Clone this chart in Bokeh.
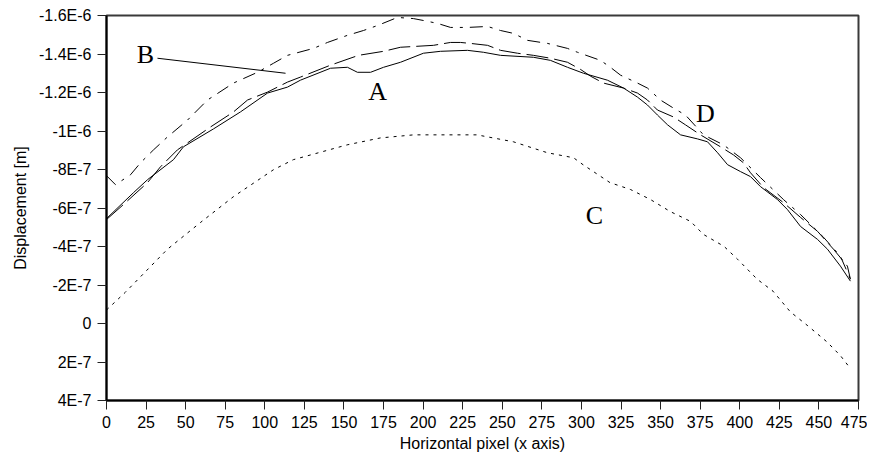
from bokeh.plotting import figure
from bokeh.models import Range1d, FixedTicker, CustomJSTickFormatter, Label
from bokeh.embed import file_html
from bokeh.resources import INLINE

# ---------------- data ----------------
x_ticks = [0, 25, 50, 75, 100, 125, 150, 175, 200, 225, 250, 275, 300, 325, 350, 375, 400, 425, 450, 475]
y_ticks = [-1.6e-6, -1.4e-6, -1.2e-6, -1.0e-6, -8e-7, -6e-7, -4e-7, -2e-7, 0.0, 2e-7, 4e-7]
y_tick_labels = ["-1.6E-6", "-1.4E-6", "-1.2E-6", "-1E-6", "-8E-7", "-6E-7", "-4E-7", "-2E-7", "0", "2E-7", "4E-7"]

# Curve A (solid)
a_x = [0, 17.1, 25.9, 42.3, 48.6, 67.6, 84.6, 101.7, 114.3, 122.5, 141.5, 152.2, 158.5, 166.8, 175.0,
       185.7, 200.2, 211.0, 228.0, 238.1, 248.9, 269.7, 280.4, 291.2, 301.3, 316.4, 326.6, 335.4,
       341.7, 348.0, 354.4, 362.6, 373.3, 379.6, 386.0, 392.3, 400.5, 406.8, 413.1, 423.8, 430.1,
       438.4, 449.1, 455.4, 463.6, 469.9]
a_y = [-5.45e-7, -6.80e-7, -7.47e-7, -8.51e-7, -9.18e-7, -10.11e-7, -10.99e-7, -11.97e-7, -12.28e-7,
       -12.64e-7, -13.26e-7, -13.31e-7, -13.05e-7, -13.05e-7, -13.31e-7, -13.57e-7, -14.04e-7,
       -14.14e-7, -14.19e-7, -14.09e-7, -13.93e-7, -13.83e-7, -13.67e-7, -13.31e-7, -13.00e-7,
       -12.64e-7, -12.23e-7, -11.76e-7, -11.35e-7, -10.83e-7, -10.32e-7, -9.80e-7, -9.59e-7,
       -9.44e-7, -8.87e-7, -8.25e-7, -7.89e-7, -7.63e-7, -7.11e-7, -6.44e-7, -5.92e-7, -5.04e-7,
       -4.37e-7, -3.86e-7, -2.98e-7, -2.20e-7]

# Curve B (long dash)
b_x = [0, 10.7, 25.9, 34.1, 44.8, 65.7, 80.2, 89.1, 101.7, 114.3, 122.5, 141.5, 159.2, 175.0, 185.7,
       206.5, 217.3, 223.6, 229.9, 240.7, 248.9, 259.6, 269.7, 280.4, 291.2, 299.4, 305.7, 313.9,
       326.6, 335.4, 341.7, 348.0, 358.1, 365.7, 375.2, 387.8, 396.0, 402.3, 406.8, 415.0, 427.6,
       438.4, 449.1, 459.2, 468.0, 469.9]
b_y = [-5.40e-7, -6.18e-7, -7.32e-7, -8.14e-7, -9.02e-7, -10.21e-7, -10.99e-7, -11.61e-7, -12.02e-7,
       -12.54e-7, -12.80e-7, -13.42e-7, -13.93e-7, -14.14e-7, -14.35e-7, -14.45e-7, -14.60e-7,
       -14.60e-7, -14.55e-7, -14.45e-7, -14.19e-7, -14.04e-7, -13.93e-7, -13.78e-7, -13.57e-7,
       -13.20e-7, -12.85e-7, -12.49e-7, -12.23e-7, -11.97e-7, -11.61e-7, -11.09e-7, -10.73e-7,
       -10.32e-7, -9.80e-7, -9.18e-7, -8.76e-7, -8.35e-7, -7.83e-7, -7.06e-7, -6.28e-7, -5.51e-7,
       -4.79e-7, -3.86e-7, -2.98e-7, -2.30e-7]

# Curve C (dotted)
c_x = [0, 12, 38.5, 59.4, 80.2, 105.5, 118, 152, 173, 194, 234, 257, 278.5, 295, 301, 318, 331,
       343.6, 356, 369, 377, 390, 398.6, 411, 421, 432, 443, 455, 463.6, 470]
c_y = [-0.70e-7, -1.63e-7, -3.86e-7, -5.25e-7, -6.59e-7, -7.99e-7, -8.51e-7, -9.28e-7, -9.64e-7,
       -9.80e-7, -9.80e-7, -9.44e-7, -8.87e-7, -8.61e-7, -8.25e-7, -7.32e-7, -6.96e-7, -6.44e-7,
       -5.82e-7, -5.30e-7, -4.63e-7, -4.01e-7, -3.34e-7, -2.30e-7, -1.68e-7, -0.60e-7, 0.12e-7,
       0.95e-7, 1.67e-7, 2.35e-7]

# Curve D (dash-dot)
d_x = [0, 5.7, 15.2, 21.5, 29.7, 38.5, 51.2, 63.8, 80.2, 95.4, 105.5, 114.3, 130.7, 139.6, 152.2,
       162.3, 171.2, 183.8, 193.9, 200.2, 209.1, 217.3, 228.0, 240.7, 248.9, 257.1, 265.9, 278.6,
       291.2, 297.5, 312.0, 318.3, 324.7, 335.4, 341.7, 349.9, 358.1, 365.7, 377.1, 389.7, 400.5,
       413.1, 427.6, 438.4, 452.9, 463.6, 469.9]
d_y = [-7.68e-7, -7.21e-7, -7.73e-7, -8.35e-7, -9.02e-7, -9.69e-7, -10.57e-7, -11.61e-7, -12.49e-7,
       -13.05e-7, -13.52e-7, -13.93e-7, -14.29e-7, -14.60e-7, -14.97e-7, -15.22e-7, -15.48e-7,
       -15.90e-7, -15.84e-7, -15.74e-7, -15.59e-7, -15.38e-7, -15.38e-7, -15.43e-7, -15.22e-7,
       -15.07e-7, -14.71e-7, -14.55e-7, -14.29e-7, -14.09e-7, -13.67e-7, -13.31e-7, -12.90e-7,
       -12.49e-7, -12.23e-7, -11.61e-7, -11.19e-7, -10.83e-7, -9.80e-7, -9.28e-7, -8.61e-7,
       -7.58e-7, -6.44e-7, -5.66e-7, -4.48e-7, -3.49e-7, -2.30e-7]

# curve annotations: letter, x, y (baseline)
ann_text = ["A", "B", "C", "D"]
ann_x = [171.2, 24.6, 308.2, 378.3]
ann_y = [-1.2075e-6, -1.3985e-6, -5.615e-7, -1.0885e-6]
# leader line from "B"
lead_x = [32.2, 113.1]
lead_y = [-1.378e-6, -1.300e-6]

# ---------------- figure ----------------
p = figure(width=867, height=454, output_backend="svg", toolbar_location=None,
           x_range=Range1d(0, 475), y_range=Range1d(4e-7, -1.6e-6),
           min_border_left=106, min_border_right=9, min_border_top=15, min_border_bottom=52)
p.background_fill_color = "white"
p.border_fill_color = "white"
p.outline_line_color = "#3a3a3a"
p.outline_line_width = 2
p.xgrid.visible = False
p.ygrid.visible = False

FONT = "Liberation Sans"
for ax in (p.xaxis[0], p.yaxis[0]):
    ax.axis_line_color = "black"
    ax.axis_line_width = 2
    ax.major_tick_line_color = "#222222"
    ax.major_tick_line_width = 1
    ax.major_tick_in = 0
    ax.major_tick_out = 9
    ax.minor_tick_line_color = None
    ax.major_label_text_font = FONT
    ax.major_label_text_font_size = "16px"
    ax.major_label_text_color = "black"
    ax.axis_label_text_font = FONT
    ax.axis_label_text_font_size = "16px"
    ax.axis_label_text_font_style = "normal"
    ax.axis_label_text_color = "black"

p.xaxis.ticker = FixedTicker(ticks=x_ticks)
p.xaxis.axis_label = "Horizontal pixel (x axis)"
p.xaxis.major_label_standoff = 6
p.xaxis.axis_label_standoff = 4

p.yaxis.ticker = FixedTicker(ticks=y_ticks)
p.yaxis.formatter = CustomJSTickFormatter(args=dict(tvals=y_ticks, tlabels=y_tick_labels), code="""
let best = 0;
for (let i = 0; i < tvals.length; i++) {
  if (Math.abs(tvals[i] - tick) < Math.abs(tvals[best] - tick)) best = i;
}
return tlabels[best];
""")
p.yaxis.axis_label = "Displacement [m]"
p.yaxis.major_label_standoff = 6
p.yaxis.axis_label_standoff = 7

# curves
p.line(c_x, c_y, line_color="black", line_width=1, line_dash="3 5")
p.line(d_x, d_y, line_color="black", line_width=1, line_dash="13 7 3 7")
p.line(b_x, b_y, line_color="black", line_width=1, line_dash="22 6")
p.line(a_x, a_y, line_color="black", line_width=1)

# annotations
p.line(lead_x, lead_y, line_color="black", line_width=1)
for t, x, y in zip(ann_text, ann_x, ann_y):
    p.add_layout(Label(x=x, y=y, text=t, text_font="Liberation Serif", text_font_size="26px",
                       text_align="center", text_baseline="alphabetic", text_color="black"))

open("out.html", "w").write(file_html(p, INLINE))
